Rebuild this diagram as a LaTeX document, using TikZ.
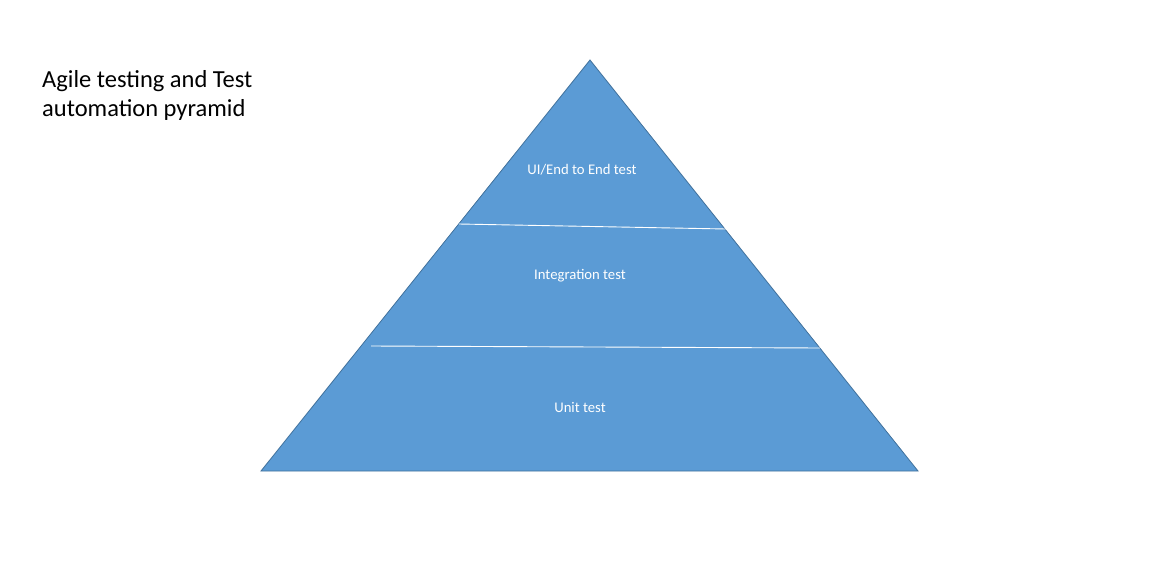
\documentclass[tikz,border=0pt]{standalone}
\usepackage{fontspec}
\setmainfont{Carlito}
\definecolor{pyrfill}{HTML}{5B9BD5}
\definecolor{pyredge}{HTML}{41719C}
\begin{document}
\begin{tikzpicture}[x=1pt,y=-1pt,
  label/.style={text=white,font=\fontsize{14.7}{17}\selectfont,inner sep=0pt},
  divider/.style={draw=white,line width=0.9pt},
  title/.style={align=left,anchor=north west,inner sep=0pt,font=\fontsize{24.5}{29}\selectfont}]
\useasboundingbox (0,0) rectangle (1168,581);
\coordinate (apex) at (590,60);
\coordinate (bl) at (261,471);
\coordinate (br) at (918,471);
\fill[pyrfill] (apex) -- (br) -- (bl) -- cycle;
\draw[pyredge,line width=0.8pt,line join=miter] (apex) -- (br) -- (bl) -- cycle;
\coordinate (d1l) at (459,224);
\coordinate (d1r) at (726,229);
\coordinate (d2l) at (371,346);
\coordinate (d2r) at (820,348);
\draw[divider] (d1l) -- (d1r);
\draw[divider] (d2l) -- (d2r);
\node[label] (ui) at (582,170) {UI/End to End test};
\node[label] (integ) at (580,276) {Integration test};
\node[label] (unit) at (580,407) {Unit test};
\node[title] (ttl) at (42,70) {Agile testing and Test\\automation pyramid};
\end{tikzpicture}
\end{document}
